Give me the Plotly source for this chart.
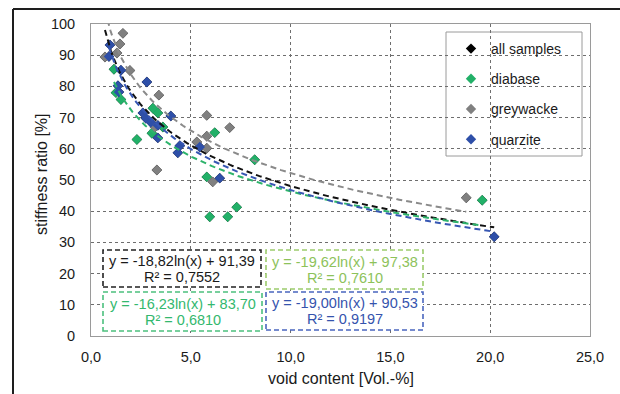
import numpy as np
import plotly.graph_objects as go

# ---- measured samples: void content [Vol.-%] vs. stiffness ratio [%] ----
diabase_x = [1.15, 1.25, 1.5, 2.3, 3.05, 3.1, 3.35, 3.6, 5.8, 5.95, 6.2, 6.85, 7.3, 8.2, 19.6]
diabase_y = [85.5, 78.0, 75.8, 63.0, 65.0, 73.0, 71.5, 67.0, 51.0, 38.2, 65.2, 38.2, 41.3, 56.5, 43.5]

greywacke_x = [0.7, 1.3, 1.45, 1.6, 1.95, 3.2, 3.3, 3.4, 5.3, 5.8, 5.8, 5.8, 6.1, 6.95, 18.8]
greywacke_y = [89.4, 90.7, 93.6, 97.0, 85.1, 67.0, 53.2, 77.2, 62.2, 70.7, 64.0, 60.2, 49.4, 66.8, 44.3]

quarzite_x = [0.9, 0.95, 1.35, 1.4, 1.5, 2.6, 2.75, 2.8, 3.0, 3.35, 3.35, 4.0, 4.35, 4.45, 5.45, 6.45, 20.2]
quarzite_y = [89.6, 93.3, 80.2, 78.2, 85.2, 71.5, 69.8, 81.4, 68.5, 67.5, 63.5, 70.5, 58.7, 61.0, 60.6, 50.6, 31.8]

all_x = diabase_x + greywacke_x + quarzite_x
all_y = diabase_y + greywacke_y + quarzite_y

# ---- logarithmic trendlines y = a*ln(x) + b ----
series_names = ["all samples", "diabase", "greywacke", "quarzite"]
fit_slope = [-18.82, -16.23, -19.62, -19.00]
fit_intercept = [91.39, 83.70, 97.38, 90.53]
fit_r2 = [0.7552, 0.6810, 0.7610, 0.9197]

x_ticks = [0, 5, 10, 15, 20, 25]
y_ticks = [0, 10, 20, 30, 40, 50, 60, 70, 80, 90, 100]

marker_colors = ["#000000", "#22B068", "#808080", "#2E4FA8"]
line_colors = ["#111111", "#2DB36B", "#8A8A8A", "#3757B3"]
label_colors = ["#1A1A1A", "#33B86E", "#8DC25A", "#3553AD"]
box_colors = ["#222222", "#4CC07E", "#9CCB6C", "#4A66BE"]

FONT = "Liberation Sans, Arial, sans-serif"
W, H = 620, 394
L, R, T, B = 91, 590, 24, 336  # plot area in pixels


def px(xp):
    return (xp - L) / (R - L)


def py(yp):
    return (B - yp) / (B - T)


def dec(v, n=2):
    return f"{v:.{n}f}".replace(".", ",")


fig = go.Figure()

# markers: all samples first, then each rock type on top
point_sets = [(all_x, all_y), (diabase_x, diabase_y), (greywacke_x, greywacke_y), (quarzite_x, quarzite_y)]
for i, (xs, ys) in enumerate(point_sets):
    fig.add_trace(go.Scatter(
        x=xs, y=ys, mode="markers", name=series_names[i],
        legendgroup=series_names[i],
        marker=dict(symbol="diamond", size=8, color=marker_colors[i], line=dict(width=0)),
    ))

# dashed trendlines over each series' data range
for i, (xs, ys) in enumerate(point_sets):
    xl = np.linspace(min(xs), max(xs), 200)
    yl = fit_slope[i] * np.log(xl) + fit_intercept[i]
    fig.add_trace(go.Scatter(
        x=xl, y=yl, mode="lines", showlegend=False, hoverinfo="skip",
        line=dict(color=line_colors[i], width=2, dash="6px,4px"),
    ))

shapes = []
annotations = []

# equation boxes: (series index, left, top, right, bottom) in pixels
eq_boxes = [
    (0, 103, 250, 261, 287),
    (1, 103, 292, 262, 331),
    (2, 266, 250, 423, 289),
    (3, 266, 292, 423, 330),
]
for i, x0, y0, x1, y1 in eq_boxes:
    shapes.append(dict(
        type="rect", xref="paper", yref="paper",
        x0=px(x0), x1=px(x1), y0=py(y1), y1=py(y0),
        line=dict(color=box_colors[i], width=1.6, dash="5px,3px"),
        fillcolor="white", layer="above",
    ))
    cx = px((x0 + x1) / 2)
    cy = (y0 + y1) / 2
    eq = f"y = {dec(fit_slope[i])}ln(x) + {dec(fit_intercept[i])}"
    r2 = f"R² = {dec(fit_r2[i], 4)}"
    for txt, yy in ((eq, cy - 8), (r2, cy + 8)):
        annotations.append(dict(
            text=txt, xref="paper", yref="paper", x=cx, y=py(yy),
            xanchor="center", yanchor="middle", showarrow=False,
            font=dict(family=FONT, size=14.5, color=label_colors[i]),
        ))

# legend frame
shapes.append(dict(
    type="rect", xref="paper", yref="paper",
    x0=px(446), x1=px(582), y0=py(156), y1=py(32),
    line=dict(color="#9A9A9A", width=1), fillcolor="white", layer="below",
))

# outer frame (left and top edges)
shapes.append(dict(type="line", xref="paper", yref="paper",
                   x0=px(13), x1=px(13), y0=py(H + 5), y1=py(9),
                   line=dict(color="#1E1E1E", width=2)))
shapes.append(dict(type="line", xref="paper", yref="paper",
                   x0=px(13), x1=px(W + 5), y0=py(9), y1=py(9),
                   line=dict(color="#1E1E1E", width=2)))

# axis titles
annotations.append(dict(
    text="void content [Vol.-%]", xref="paper", yref="paper",
    x=px(341), y=py(378), xanchor="center", yanchor="middle", showarrow=False,
    font=dict(family=FONT, size=16, color="#1A1A1A"),
))
annotations.append(dict(
    text="stiffness ratio [%]", xref="paper", yref="paper",
    x=px(41), y=py(174), xanchor="center", yanchor="middle", showarrow=False,
    textangle=-90, font=dict(family=FONT, size=16, color="#1A1A1A"),
))

fig.update_layout(
    width=W, height=H,
    margin=dict(l=L, r=W - R, t=T, b=H - B),
    paper_bgcolor="white", plot_bgcolor="white",
    font=dict(family=FONT, size=14, color="#1A1A1A"),
    shapes=shapes, annotations=annotations,
    showlegend=True,
    legend=dict(
        x=px(451), y=py(33), xanchor="left", yanchor="top",
        bgcolor="rgba(0,0,0,0)", borderwidth=0,
        font=dict(family=FONT, size=14, color="#1A1A1A"),
        tracegroupgap=9,
    ),
)

fig.update_xaxes(
    range=[0, 25], tickvals=x_ticks, ticktext=[dec(v, 1) for v in x_ticks],
    showgrid=True, gridcolor="#6E6E6E", griddash="dot", gridwidth=1,
    zeroline=False, showline=True, linecolor="#9A9A9A", linewidth=1, mirror=True,
    ticks="", ticklabelstandoff=8, tickfont=dict(family=FONT, size=14.5, color="#1A1A1A"),
)
fig.update_yaxes(
    range=[0, 100], tickvals=y_ticks, ticktext=[str(v) for v in y_ticks],
    showgrid=True, gridcolor="#6E6E6E", griddash="dot", gridwidth=1,
    zeroline=False, showline=True, linecolor="#9A9A9A", linewidth=1, mirror=True,
    ticks="", ticklabelstandoff=12, tickfont=dict(family=FONT, size=14.5, color="#1A1A1A"),
)

fig.write_html("out.html")
